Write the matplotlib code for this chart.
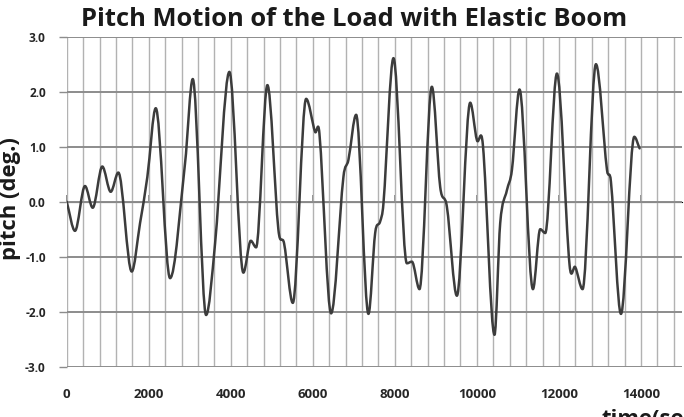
import matplotlib
matplotlib.use("Agg")
import matplotlib.pyplot as plt
from matplotlib.path import Path
from matplotlib.patches import PathPatch
from matplotlib.ticker import MultipleLocator, FixedLocator, NullFormatter

# ---- data ----
time_sec = [0, 202, 446, 634, 868, 1073, 1259, 1585, 1788, 1966, 2171, 2520,
            2885, 3073, 3398, 3617, 3966, 4307, 4488, 4617, 4893, 5161, 5300,
            5512, 5837, 6056, 6161, 6446, 6746, 6868, 7056, 7356, 7520, 7641,
            7722, 7966, 8293, 8415, 8600, 8902, 9105, 9268, 9512, 9837, 10000,
            10146, 10429, 10568, 10732, 10854, 11039, 11366, 11544, 11666,
            11951, 12259, 12398, 12576, 12902, 13171, 13268, 13512, 13837, 13966]
pitch_deg = [0.00, -0.53, 0.285, -0.11, 0.64, 0.18, 0.53, -1.27, -0.39, 0.45,
             1.70, -1.39, 0.70, 2.23, -2.06, -0.76, 2.36, -1.29, -0.71, -0.83,
             2.12, -0.51, -0.76, -1.84, 1.87, 1.27, 1.24, -2.03, 0.45, 0.76,
             1.58, -2.04, -0.57, -0.36, -0.03, 2.61, -1.12, -1.09, -1.59, 2.09,
             0.27, -0.09, -1.71, 1.80, 1.12, 1.03, -2.42, -0.39, 0.21, 0.58,
             2.04, -1.59, -0.50, -0.57, 2.33, -1.15, -1.19, -1.59, 2.50, 0.58,
             0.36, -2.04, 1.18, 0.97]
x_ticks = [0, 2000, 4000, 6000, 8000, 10000, 12000, 14000]
x_tick_labels = ["0", "2000", "4000", "6000", "8000", "10000", "12000", "14000"]
y_ticks = [-3, -2, -1, 0, 1, 2, 3]
y_tick_labels = ["-3.0", "-2.0", "-1.0", "0.0", "1.0", "2.0", "3.0"]
title = "Pitch Motion of the Load with Elastic Boom"
y_label = "pitch (deg.)"
x_label = "time(sec.)"

FONT = ["Open Sans", "DejaVu Sans"]
plt.rcParams["font.family"] = FONT

W, H = 684, 417
fig = plt.figure(figsize=(W / 100, H / 100), dpi=100)
left_px, right_px, top_px, bot_px = 66.7, 682.0, 36.7, 366.7
ax = fig.add_axes([left_px / W, 1 - bot_px / H,
                   (right_px - left_px) / W, (bot_px - top_px) / H])
ax.set_xlim(0, 15000)
ax.set_ylim(-3, 3)

for s in ax.spines.values():
    s.set_visible(False)

# grid
ax.xaxis.set_major_locator(FixedLocator(x_ticks))
ax.xaxis.set_minor_locator(MultipleLocator(400))
ax.set_xticklabels(x_tick_labels)
ax.set_yticks(y_ticks)
ax.set_yticklabels(y_tick_labels)
ax.grid(True, axis="x", which="both", color="#b2b2b2", lw=1.0)
ax.grid(True, axis="y", which="major", color="#8c8c8c", lw=1.4)
ax.set_axisbelow(True)

ax.tick_params(axis="x", which="both", length=0, pad=15.5, labelsize=9.5,
               labelcolor="#262626")
ax.tick_params(axis="y", which="major", length=6, width=1.0, color="#8c8c8c",
               pad=9, labelsize=8.6, labelcolor="#262626")
for lab in ax.get_xticklabels() + ax.get_yticklabels():
    lab.set_fontweight("bold")

# tick marks on the zero line
sec = ax.secondary_xaxis(0.5)
sec.spines["bottom"].set_visible(False)
sec.set_xticks(x_ticks)
sec.xaxis.set_major_formatter(NullFormatter())
sec.tick_params(axis="x", length=5, width=1.2, color="#7a7a7a", direction="out")

# smoothed line (Excel-like smoothing) through the read points
n = len(time_sec)
slopes = []
for i in range(n):
    if i == 0:
        m = (pitch_deg[1] - pitch_deg[0]) / (time_sec[1] - time_sec[0])
    elif i == n - 1:
        m = (pitch_deg[-1] - pitch_deg[-2]) / (time_sec[-1] - time_sec[-2])
    else:
        d0 = pitch_deg[i] - pitch_deg[i - 1]
        d1 = pitch_deg[i + 1] - pitch_deg[i]
        if d0 * d1 <= 0:
            m = 0.0
        else:
            m = (pitch_deg[i + 1] - pitch_deg[i - 1]) / (time_sec[i + 1] - time_sec[i - 1])
    slopes.append(m)
verts = [(time_sec[0], pitch_deg[0])]
codes = [Path.MOVETO]
for i in range(n - 1):
    h = time_sec[i + 1] - time_sec[i]
    verts += [(time_sec[i] + h / 3, pitch_deg[i] + slopes[i] * h / 3),
              (time_sec[i + 1] - h / 3, pitch_deg[i + 1] - slopes[i + 1] * h / 3),
              (time_sec[i + 1], pitch_deg[i + 1])]
    codes += [Path.CURVE4] * 3
ax.add_patch(PathPatch(Path(verts, codes), facecolor="none",
                       edgecolor="#3c3c3c", lw=1.8, capstyle="round",
                       joinstyle="round"))

# texts
t = fig.text(354 / W, 1 - 20 / H, title, ha="center", va="center",
             fontsize=15.5, fontweight="bold", color="#1a1a1a")
yl = ax.set_ylabel(y_label, fontsize=15.5, fontweight="bold", color="#1a1a1a",
                   va="center")
ax.yaxis.set_label_coords((11 - left_px) / (right_px - left_px),
                          (bot_px - 199) / (bot_px - top_px))
xl = fig.text(602 / W, 1 - 409 / H, x_label, ha="left", va="top",
              fontsize=15.5, fontweight="bold", color="#1a1a1a")

# fit text widths to the reference
fig.canvas.draw()
r = fig.canvas.get_renderer()
w = t.get_window_extent(r).width
t.set_fontsize(t.get_fontsize() * 545 / w)
hgt = yl.get_window_extent(r).height
yl.set_fontsize(yl.get_fontsize() * 122 / hgt)
xl.set_fontsize(yl.get_fontsize())

fig.savefig("out.png", dpi=100, facecolor="white")
